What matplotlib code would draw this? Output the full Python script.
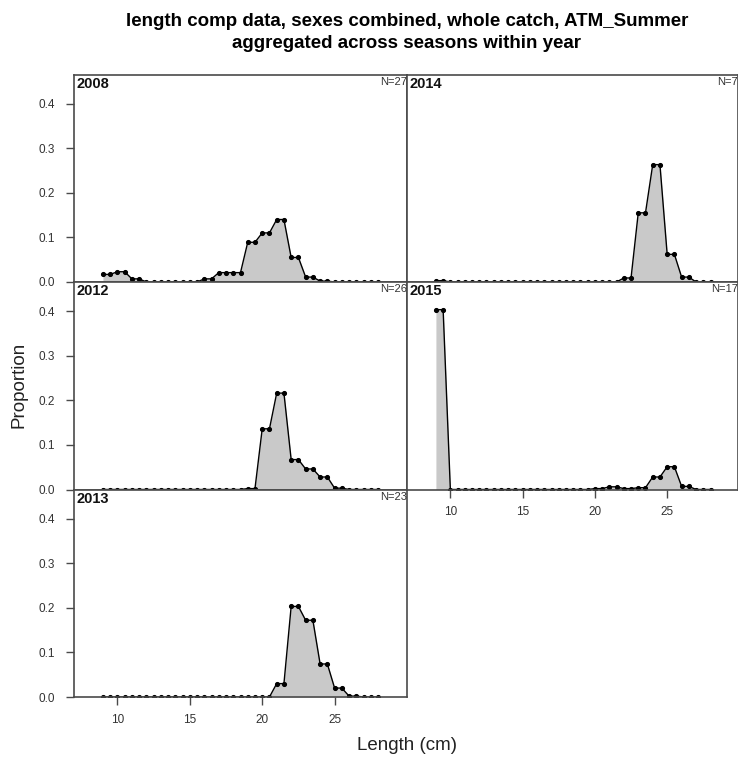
import numpy as np
import matplotlib
matplotlib.use("Agg")
import matplotlib.pyplot as plt

plt.rcParams['font.family'] = ['Liberation Sans', 'DejaVu Sans']

# длины (нижняя граница бина, см)
length_bins = [9, 9.5, 10, 10.5, 11, 11.5, 12, 12.5, 13, 13.5,
               14, 14.5, 15, 15.5, 16, 16.5, 17, 17.5, 18, 18.5,
               19, 19.5, 20, 20.5, 21, 21.5, 22, 22.5, 23, 23.5,
               24, 24.5, 25, 25.5, 26, 26.5, 27, 27.5, 28]

years = ['2008', '2012', '2013', '2014', '2015']
n_samples = [27, 26, 23, 7, 17]

prop_2008 = [0.017, 0.017, 0.023, 0.023, 0.007, 0.007, 0.0, 0.0, 0.0, 0.0,
             0.0, 0.0, 0.0, 0.0, 0.007, 0.007, 0.021, 0.021, 0.021, 0.021,
             0.089, 0.089, 0.110, 0.110, 0.140, 0.140, 0.055, 0.055, 0.011, 0.011,
             0.002, 0.002, 0.0, 0.0, 0.0, 0.0, 0.0, 0.0, 0.0]
prop_2012 = [0.0, 0.0, 0.0, 0.0, 0.0, 0.0, 0.0, 0.0, 0.0, 0.0,
             0.0, 0.0, 0.0, 0.0, 0.0, 0.0, 0.0, 0.0, 0.0, 0.0,
             0.002, 0.002, 0.136, 0.136, 0.216, 0.216, 0.067, 0.067, 0.046, 0.046,
             0.028, 0.028, 0.003, 0.003, 0.0, 0.0, 0.0, 0.0, 0.0]
prop_2013 = [0.0, 0.0, 0.0, 0.0, 0.0, 0.0, 0.0, 0.0, 0.0, 0.0,
             0.0, 0.0, 0.0, 0.0, 0.0, 0.0, 0.0, 0.0, 0.0, 0.0,
             0.0, 0.0, 0.0, 0.0, 0.030, 0.030, 0.203, 0.203, 0.172, 0.172,
             0.074, 0.074, 0.020, 0.020, 0.002, 0.002, 0.0, 0.0, 0.0]
prop_2014 = [0.003, 0.003, 0.0, 0.0, 0.0, 0.0, 0.0, 0.0, 0.0, 0.0,
             0.0, 0.0, 0.0, 0.0, 0.0, 0.0, 0.0, 0.0, 0.0, 0.0,
             0.0, 0.0, 0.0, 0.0, 0.0, 0.0, 0.009, 0.009, 0.155, 0.155,
             0.263, 0.263, 0.062, 0.062, 0.011, 0.011, 0.0, 0.0, 0.0]
prop_2015 = [0.403, 0.403, 0.0, 0.0, 0.0, 0.0, 0.0, 0.0, 0.0, 0.0,
             0.0, 0.0, 0.0, 0.0, 0.0, 0.0, 0.0, 0.0, 0.0, 0.0,
             0.0, 0.0, 0.002, 0.002, 0.006, 0.006, 0.002, 0.002, 0.004, 0.004,
             0.028, 0.028, 0.051, 0.051, 0.007, 0.007, 0.0, 0.0, 0.0]

x_ticks = [10, 15, 20, 25]
y_ticks = [0.0, 0.1, 0.2, 0.3, 0.4]

W, H = 738, 757
fig = plt.figure(figsize=(W / 100, H / 100), dpi=100)

# панели в пикселях: (колонка, ряд)
col_x = [74, 407]
col_w = [333, 331]
col_xmax = [30, 29.9]
row_top = [74.5, 282, 489.5]
row_h = 207.5

panels = [
    (prop_2008, 0, 0),
    (prop_2012, 0, 1),
    (prop_2013, 0, 2),
    (prop_2014, 1, 0),
    (prop_2015, 1, 1),
]
bottom_rows = {0: 2, 1: 1}
frame_col = '#4a4a4a'

for i, (vals, c, r) in enumerate(panels):
    left = col_x[c] / W
    bottom = 1 - (row_top[r] + row_h) / H
    ax = fig.add_axes([left, bottom, col_w[c] / W, row_h / H])
    ax.fill_between(length_bins, 0, vals, color='#c9c9c9', lw=0)
    ax.plot(length_bins, vals, color='black', lw=1.0, marker='o', ms=2.7,
            mec='black', mfc='black')
    ax.set_xlim(7, col_xmax[c])
    ax.set_ylim(0, 0.465)
    for s in ax.spines.values():
        s.set_color(frame_col)
        s.set_linewidth(1.2)

    ax.tick_params(colors=frame_col, labelcolor='#333333', labelsize=8.5,
                   direction='out', length=6, width=1)
    ax.set_xticks(x_ticks)
    if bottom_rows[c] == r:
        ax.set_xticklabels([str(t) for t in x_ticks])
        ax.tick_params(axis='x', pad=6)
    else:
        ax.tick_params(axis='x', length=0, labelbottom=False)
    ax.set_yticks(y_ticks)
    if c == 0:
        ax.set_yticklabels([f'{t:.1f}' for t in y_ticks])
        ax.tick_params(axis='y', pad=8)
    else:
        ax.tick_params(axis='y', length=0, labelleft=False)

    ax.text(0.008, 0.988, years[i], transform=ax.transAxes, ha='left', va='top',
            fontsize=10.5, fontweight='bold', color='#111111')
    ax.text(0.999, 0.99, f'N={n_samples[i]}', transform=ax.transAxes, ha='right',
            va='top', fontsize=8, color='#333333')

fig.text(407 / W, 1 - 22 / H, 'length comp data, sexes combined, whole catch, ATM_Summer',
         ha='center', va='center', fontsize=13.5, fontweight='bold')
fig.text(407 / W, 1 - 43 / H, 'aggregated across seasons within year',
         ha='center', va='center', fontsize=13.5, fontweight='bold')
fig.text(19 / W, 1 - 385 / H, 'Proportion', rotation=90, ha='center', va='center',
         fontsize=13.5, color='#222222')
fig.text(407 / W, 1 - 745 / H, 'Length (cm)', ha='center', va='center',
         fontsize=13.5, color='#222222')

fig.savefig('out.png', dpi=100)
